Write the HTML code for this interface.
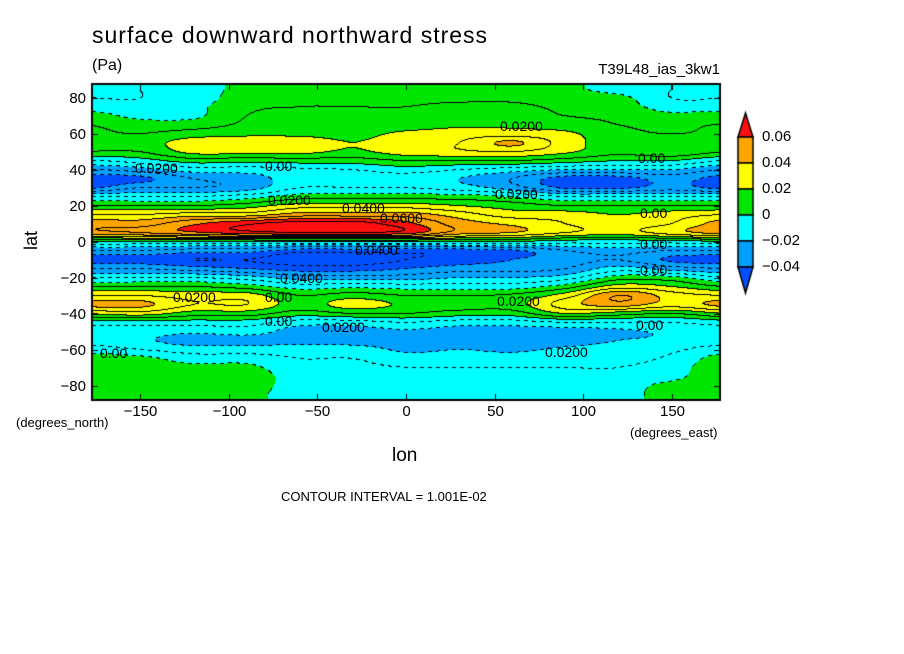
<!DOCTYPE html>
<html><head><meta charset="utf-8">
<style>
html,body{margin:0;padding:0;background:#fff;}
#wrap{position:relative;width:904px;height:654px;overflow:hidden;background:#fff;font-family:"Liberation Sans",sans-serif;color:#000;}
.t{position:absolute;white-space:nowrap;}
#cv{position:absolute;left:0;top:0;}
</style></head><body>
<div id="wrap">
<canvas id="cv" width="904" height="654"></canvas>
<div class="t" style="left:92px;top:22px;font-size:23px;letter-spacing:1px;">surface downward northward stress</div>
<div class="t" style="left:92px;top:57px;font-size:16px;">(Pa)</div>
<div class="t" style="right:184px;top:61px;font-size:15px;">T39L48_ias_3kw1</div>
<div class="t" style="left:22px;top:230px;font-size:18px;transform:rotate(-90deg);">lat</div>
<div class="t" style="left:392px;top:445px;font-size:19px;">lon</div>
<div class="t" style="left:16px;top:415px;font-size:13px;">(degrees_north)</div>
<div class="t" style="left:630px;top:425px;font-size:13px;">(degrees_east)</div>
<div class="t" style="left:281px;top:489px;font-size:13px;">CONTOUR INTERVAL = 1.001E-02</div>
<div id="labels"></div>
</div>
<script>
// latitude rows (deg) and longitude columns (deg); values in units of 0.01 Pa
const lats=[85,80,75,70,65,60,55,50,45,40,35,30,25,20,15,10,5,0,-5,-10,-15,-20,-25,-30,-35,-40,-45,-50,-55,-60,-65,-70,-75,-80,-85];
const lons=[-180,-150,-120,-90,-60,-30,0,30,60,90,120,150];
const colM180=[-1,-1,-0.5,0.5,1,1.2,1.5,1,-1,-3,-4.5,-4.2,-1,1,3,4.5,4.5,0,-3,-4.5,-3,-1,1,3,4.3,2,-0.5,-1.5,-1.5,-0.5,0.5,0.8,0.8,0.5,0.3];
const colM150=[-1,-1,-0.8,-0.3,0.5,1,1.5,1,-0.5,-2.5,-4.3,-3,-1,1,3,4.5,5,0,-3,-4.5,-3,-1,1,3,4.3,2.5,-0.5,-1.5,-1.8,-1,0.3,0.5,0.5,0.3,0.2];
const colM120=[-0.5,-0.5,-0.3,-0.2,0.5,1.5,2.5,2.3,0.5,-1.5,-3,-3,-1,1,3.5,5.8,5.8,0,-3.5,-5,-3.5,-1,1,2.5,3,1.5,-0.5,-1.8,-2.5,-1.5,-0.5,0.3,0.5,0.3,0.2];
const colM90=[0.3,0.5,0.8,1,1.2,1.8,2.5,2.3,0.3,-1.5,-2.5,-2.5,-0.5,1.5,3.5,6.8,6.5,0,-3.5,-5,-4,-1.5,0.5,2.5,3,1.5,-0.5,-1.5,-2.5,-1.5,-0.5,0.3,0.6,0.5,0.3];
const colM60=[0.5,0.8,1,1.2,1.5,1.8,2.5,2.3,0.5,-1.2,-1.5,-1,0.5,2.5,4.5,7.5,7,0,-4.5,-5.5,-4.5,-2.5,-0.5,1,1.5,0.5,-1.5,-2.5,-2.3,-1.5,-1,-0.8,-0.5,-0.5,-0.5];
const colM30=[0.5,0.8,1,1.2,1.5,1.7,2,1.8,0.5,-1,-1.5,-1,0.5,2.5,4.5,7.5,7,0,-4.5,-5.5,-4.5,-2.5,-0.3,1.5,2.5,1,-1.5,-2.5,-2.5,-1.5,-1,-0.8,-0.5,-0.5,-0.5];
const col0=[0.5,0.8,1,1.2,1.5,2.2,2.5,2.5,1,-0.5,-1.5,-1,0.5,2.5,4.5,6.3,6.5,0,-4.5,-5,-4,-2.5,-0.5,1,1.8,1,-1,-2.2,-2.5,-2.2,-1.5,-1,-0.8,-0.8,-0.8];
const colP30=[0.5,0.8,1.2,1.5,1.8,2.5,3,2.8,1,-1,-2,-1.5,0.5,2,3.5,4.5,4.5,0,-4.5,-4.5,-3.5,-2,-0.5,1,1.5,0.5,-1.5,-2.5,-2.5,-2,-1.5,-1,-0.8,-0.8,-0.8];
const colP60=[0.5,0.8,1.2,1.5,1.8,2.5,4.2,3,1,-1.5,-3,-2.5,0,1.5,2.5,3.8,4,0,-4.2,-4,-3.5,-2,-0.5,1.2,1.5,0.5,-1.5,-2.5,-2.5,-2.2,-1.5,-1,-0.8,-0.8,-0.8];
const colP90=[0.3,0.5,0.8,1,1.5,2.2,2.5,2.2,0.5,-2,-4.5,-4.2,-1,1,2.5,3,3,-0.5,-3,-3.5,-3,-1.5,0.5,2.5,3.5,2,-1,-2.5,-2.5,-1.8,-1.3,-1,-0.8,-0.8,-0.5];
const colP120=[-0.5,0.3,0.5,0.8,1,1.3,1.5,1.3,0,-2,-4.5,-4.2,-1,1,2,2.5,2.5,-0.5,-2.5,-3,-1.5,0.5,2.5,5,4.5,1.5,-1,-2.2,-2,-1.5,-1.3,-1,-0.8,-0.5,-0.5];
const colP150=[-1,-1,-0.5,0.3,0.8,1,1.8,1.8,0,-2,-3.5,-3.5,-1,1,2.5,3,3.5,-0.5,-3,-4.2,-2.5,0.3,2,3.5,3.5,1,-1,-1.8,-1.8,-1.2,-0.8,-0.5,-0.3,0.3,0.5];
const columns=[colM180,colM150,colM120,colM90,colM60,colM30,col0,colP30,colP60,colP90,colP120,colP150];
const xTicks=[-150,-100,-50,0,50,100,150];
const yTicks=[80,60,40,20,0,-20,-40,-60,-80];
const cbLabels=["0.06","0.04","0.02","0","-0.02","-0.04"];
const cbLevels=[6,4,2,0,-2,-4];

const X0=92,X1=720,Y0=84,Y1=400,LON0=-177.2,LON1=177.2,LAT0=87.9,LAT1=-87.9;
function xScale(lon){return X0+(lon-LON0)/(LON1-LON0)*(X1-X0);}
function yScale(lat){return Y0+(lat-LAT0)/(LAT1-LAT0)*(Y1-Y0);}
function lonOf(px){return LON0+(px-X0)/(X1-X0)*(LON1-LON0);}
function latOf(py){return LAT0+(py-Y0)/(Y1-Y0)*(LAT1-LAT0);}
function cr(p0,p1,p2,p3,t){return 0.5*((2*p1)+(-p0+p2)*t+(2*p0-5*p1+4*p2-p3)*t*t+(-p0+3*p1-3*p2+p3)*t*t*t);}
const nC=columns.length,nR=lats.length;
function g(r,c){r=Math.max(0,Math.min(nR-1,r));c=((c%nC)+nC)%nC;return columns[c][r];}
function val(lon,lat){
  let fc=(lon-lons[0])/30, c=Math.floor(fc), tc=fc-c;
  let fr=(lats[0]-lat)/5, r=Math.floor(fr), tr=fr-r;
  const rows=[];
  for(let i=-1;i<3;i++){rows.push(cr(g(r+i,c-1),g(r+i,c),g(r+i,c+1),g(r+i,c+2),tc));}
  return cr(rows[0],rows[1],rows[2],rows[3],tr);
}
const cols=["#0050ff","#00a0ff","#00ffff","#00e600","#ffff00","#ffa500","#ff1010"];
function band(v){if(v<-4)return 0;if(v<-2)return 1;if(v<0)return 2;if(v<2)return 3;if(v<4)return 4;if(v<6)return 5;return 6;}
const cv=document.getElementById('cv');const ctx=cv.getContext('2d');
const W=X1-X0,H=Y1-Y0;
const img=ctx.createImageData(W,H);
const V=new Float32Array(W*H);
for(let j=0;j<H;j++)for(let i=0;i<W;i++){V[j*W+i]=val(lonOf(X0+i+0.5),latOf(Y0+j+0.5));}
function hex(h){return [parseInt(h.substr(1,2),16),parseInt(h.substr(3,2),16),parseInt(h.substr(5,2),16)];}
const rgb=cols.map(hex);
for(let j=0;j<H;j++)for(let i=0;i<W;i++){
  const v=V[j*W+i];let c=rgb[band(v)];
  const l=Math.floor(v);
  let line=false;
  if(i<W-1&&Math.floor(V[j*W+i+1])!==l)line=true;
  if(j<H-1&&Math.floor(V[(j+1)*W+i])!==l)line=true;
  if(line){
    const lvl=Math.max(l,Math.floor(i<W-1?V[j*W+i+1]:v));
    const neg=lvl<=0&&Math.min(v,i<W-1?V[j*W+i+1]:v)<0&&Math.max(v,i<W-1?V[j*W+i+1]:v)<0.05;
    if(!(neg && ((i>>2)&1)))c=[0,0,0];
  }
  const k=(j*W+i)*4;img.data[k]=c[0];img.data[k+1]=c[1];img.data[k+2]=c[2];img.data[k+3]=255;
}
ctx.putImageData(img,X0,Y0);
ctx.strokeStyle="#000";ctx.lineWidth=2;ctx.strokeRect(X0,Y0,W,H);
ctx.lineWidth=1;
const lab=document.getElementById('labels');
xTicks.forEach(t=>{const x=Math.round(xScale(t))+0.5;ctx.beginPath();ctx.moveTo(x,Y1);ctx.lineTo(x,Y1-6);ctx.moveTo(x,Y0);ctx.lineTo(x,Y0+6);ctx.stroke();
  const d=document.createElement('div');d.className='t';d.textContent=(t<0?'\u2212'+(-t):t);d.style.left=(x-30)+'px';d.style.width='60px';d.style.textAlign='center';d.style.top='403px';d.style.fontSize='15px';
  
  
  lab.appendChild(d);});
yTicks.forEach(t=>{const y=Math.round(yScale(t))+0.5;ctx.beginPath();ctx.moveTo(X0,y);ctx.lineTo(X0+6,y);ctx.moveTo(X1,y);ctx.lineTo(X1-6,y);ctx.stroke();
  const d=document.createElement('div');d.className='t';d.textContent=(t<0?'\u2212'+(-t):t);d.style.right=(904-86)+'px';d.style.top=(y-9)+'px';d.style.fontSize='15px';
  
  
  lab.appendChild(d);});
// colorbar
const CBX=738,CBW=15,CBTOP=137,CBH=26;
function cbY(i){return CBTOP+i*CBH;}
ctx.lineWidth=1.5;
ctx.fillStyle=cols[6];ctx.beginPath();ctx.moveTo(CBX,CBTOP);ctx.lineTo(CBX+CBW/2,CBTOP-24);ctx.lineTo(CBX+CBW,CBTOP);ctx.closePath();ctx.fill();ctx.stroke();
for(let i=0;i<5;i++){ctx.fillStyle=cols[5-i];ctx.fillRect(CBX,cbY(i),CBW,CBH);ctx.strokeRect(CBX,cbY(i),CBW,CBH);}
ctx.fillStyle=cols[0];ctx.beginPath();ctx.moveTo(CBX,cbY(5));ctx.lineTo(CBX+CBW/2,cbY(5)+26);ctx.lineTo(CBX+CBW,cbY(5));ctx.closePath();ctx.fill();ctx.stroke();
cbLabels.forEach((s,i)=>{const d=document.createElement('div');d.className='t';d.textContent=s.replace('-','\u2212');d.style.left='762px';d.style.top=(cbY(i)-9)+'px';d.style.fontSize='15px';
  
  
  lab.appendChild(d);});
// contour labels
const cl=[["0.0200",500,118],["0.0200",135,160],["0.00",265,158],["0.00",638,150],["0.0200",495,186],["0.0200",268,192],["0.0400",342,200],["0.0600",380,210],["0.00",640,205],["0.0400",355,242],["0.00",640,236],["0.00",640,262],["0.0400",280,270],["0.0200",173,289],["0.00",265,289],["0.0200",497,293],["0.0200",322,319],["0.00",265,313],["0.00",636,317],["0.0200",545,344],["0.00",100,345]];
cl.forEach(a=>{const d=document.createElement('div');d.className='t';d.textContent=a[0];d.style.left=a[1]+'px';d.style.top=a[2]+'px';d.style.fontSize='14px';
  
  
  lab.appendChild(d);});
</script>
</body></html>
